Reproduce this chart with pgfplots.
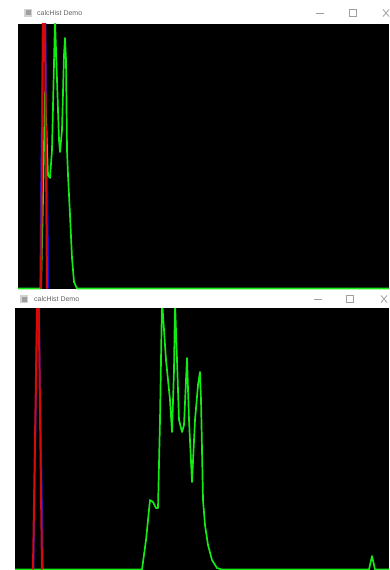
\documentclass[border=0pt]{standalone}
\usepackage{fontspec}
\setmainfont{Liberation Sans}
\usepackage{pgfplots}
\pgfplotsset{compat=1.18}
\definecolor{hgreen}{RGB}{20,235,20}
\definecolor{hred}{RGB}{215,10,10}
\definecolor{hblue}{RGB}{20,20,200}
\definecolor{bartext}{RGB}{100,100,100}
\pgfplotsset{
  histwin/.style={
    scale only axis,
    axis background/.style={fill=black},
    axis line style={draw=none},
    ticks=none,
    clip=true,
    ymin=0,
  },
  hline/.style={line width=1.7bp, line join=round, no markers},
}
\begin{document}
\begin{tikzpicture}[x=1bp,y=1bp]
\useasboundingbox (0,0) rectangle (389,-570);
\fill[white] (0,0) rectangle (389,-570);
% ---- title bar 1 ----
\fill[gray!35] (24,-9) rectangle (32,-17);
\fill[gray!75] (25.5,-10.5) rectangle (30.5,-15.5);
\node[anchor=west, font=\fontsize{7}{8}\selectfont, text=bartext, inner sep=0] at (37,-13) {calcHist Demo};
\draw[gray!75, line width=0.8bp] (316,-13) -- (324,-13);
\draw[gray!75, line width=0.8bp] (349,-9.5) rectangle (356,-16.5);
\draw[gray!75, line width=0.8bp] (383,-9.5) -- (389,-16.5) (383,-16.5) -- (389,-9.5);
% ---- title bar 2 ----
\fill[gray!35] (20,-295) rectangle (28,-303);
\fill[gray!75] (21.5,-296.5) rectangle (26.5,-301.5);
\node[anchor=west, font=\fontsize{7}{8}\selectfont, text=bartext, inner sep=0] at (34,-299) {calcHist Demo};
\draw[gray!75, line width=0.8bp] (314,-299) -- (322,-299);
\draw[gray!75, line width=0.8bp] (346,-295.5) rectangle (353,-302.5);
\draw[gray!75, line width=0.8bp] (381,-295.5) -- (387,-302.5) (381,-302.5) -- (387,-295.5);

% ---- top histogram window ----
\begin{axis}[histwin, at={(18,-289)}, anchor=south west,
  width=371bp, height=265bp, xmin=0, xmax=371, ymax=265]
\addplot[hline, hblue] coordinates {
 (22,0.5) (26,389) (30.5,0.5)};
\addplot[hline, hgreen] coordinates {
 (0,0.5) (23,0.5) (25,89) (27,197) (28,169) (30,114) (32,111) (34,139)
 (37,269) (39,209) (41,149) (42,137) (44,159) (46,234) (47,251)
 (48,229) (49,139) (50,114) (52,74) (54,31) (56,7) (59,0.5) (371,0.5)};
\addplot[hline, hred, line width=2bp] coordinates {
 (23,0.5) (26,389) (29,0.5)};
\end{axis}

% ---- bottom histogram window ----
\begin{axis}[histwin, at={(15,-570)}, anchor=south west,
  width=374bp, height=262bp, xmin=0, xmax=374, ymax=262]
\addplot[hline, hblue] coordinates {
 (18.5,0.5) (23,320) (28,0.5)};
\addplot[hline, hgreen] coordinates {
 (0,0.5) (127,0.5) (131,30) (135,70) (138,68) (141,62) (143,62) (145,150)
 (147,270) (149,240) (151,210) (153,190) (155,170) (157,138) (159,200)
 (160,268) (162,210) (164,150) (167,138) (169,145) (172,212) (174,150)
 (177,88) (180,150) (183,185) (185,198) (186,170) (188,70) (190,45)
 (193,25) (197,10) (202,2) (207,0.5) (354,0.5) (357,14) (360,0.5) (374,0.5)};
\addplot[hline, hred, line width=2bp] coordinates {
 (18,0.5) (23,320) (27,0.5)};
\end{axis}
\end{tikzpicture}
\end{document}
